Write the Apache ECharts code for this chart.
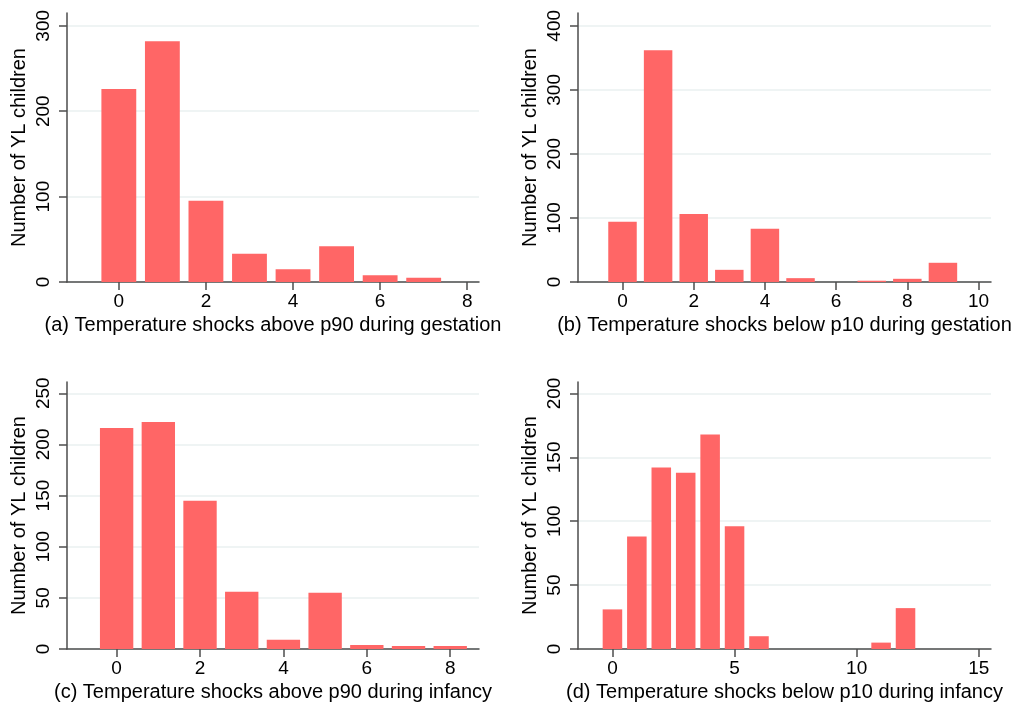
<!DOCTYPE html>
<html>
<head>
<meta charset="utf-8">
<script src="https://cdn.jsdelivr.net/npm/echarts@6/dist/echarts.min.js"></script>
<style>
  html, body { margin: 0; padding: 0; background: #fff; }
  #chart { width: 1013px; height: 704px; }
</style>
</head>
<body>
<div id="chart"></div>
<script>
// number of shocks (x) and number of YL children (y), one pair per panel
var shocksA = [0, 1, 2, 3, 4, 5, 6, 7, 8];
var countsA = [226, 282, 95, 33, 15, 42, 8, 5, 0];
var shocksB = [0, 1, 2, 3, 4, 5, 6, 7, 8, 9];
var countsB = [94, 362, 106, 19, 83, 6, 0, 2, 5, 30];
var shocksC = [0, 1, 2, 3, 4, 5, 6, 7, 8];
var countsC = [216, 222, 145, 56, 9, 55, 4, 3, 3];
var shocksD = [0, 1, 2, 3, 4, 5, 6, 7, 8, 9, 10, 11, 12];
var countsD = [31, 88, 142, 138, 168, 96, 10, 0, 0, 0, 0, 5, 32];

// tick labels
var xTicksA = [0, 2, 4, 6, 8];
var xTicksB = [0, 2, 4, 6, 8, 10];
var xTicksC = [0, 2, 4, 6, 8];
var xTicksD = [0, 5, 10, 15];
var yTicksA = [0, 100, 200, 300];
var yTicksB = [0, 100, 200, 300, 400];
var yTicksC = [0, 50, 100, 150, 200, 250];
var yTicksD = [0, 50, 100, 150, 200];

var titles = [
    '(a) Temperature shocks above p90 during gestation',
    '(b) Temperature shocks below p10 during gestation',
    '(c) Temperature shocks above p90 during infancy',
    '(d) Temperature shocks below p10 during infancy'
];
var yName = 'Number of YL children';

var panels = [
    {x: shocksA, y: countsA, xt: xTicksA, yt: yTicksA, xr: [-1.19, 8.27], yr: [0, 315],
        grid: {left: 67, top: 13, width: 412, height: 269}},
    {x: shocksB, y: countsB, xt: xTicksB, yt: yTicksB, xr: [-1.25, 10.35], yr: [0, 420],
        grid: {left: 578, top: 13, width: 413, height: 269}},
    {x: shocksC, y: countsC, xt: xTicksC, yt: yTicksC, xr: [-1.19, 8.69], yr: [0, 261],
        grid: {left: 67, top: 382, width: 412, height: 267}},
    {x: shocksD, y: countsD, xt: xTicksD, yt: yTicksD, xr: [-1.41, 15.5], yr: [0, 209],
        grid: {left: 578, top: 382, width: 413, height: 267}}
];

var font = 'Liberation Sans, Arial, sans-serif';
var axisColor = '#4d4d4d';
var barColor = '#ff6666';
var barW = 0.8;

var grids = [], xAxes = [], yAxes = [], series = [];

panels.forEach(function (p, i) {
    grids.push(Object.assign({outerBoundsMode: 'none', containLabel: false}, p.grid));
    xAxes.push({
        type: 'value', gridIndex: i, min: p.xr[0], max: p.xr[1],
        name: titles[i], nameLocation: 'middle', nameGap: 33,
        nameTextStyle: {fontFamily: font, fontSize: 20, color: '#000'},
        axisLine: {onZero: false, lineStyle: {color: axisColor, width: 1.5}},
        axisTick: {show: true, length: 8, customValues: p.xt, lineStyle: {color: axisColor, width: 1.5}},
        axisLabel: {customValues: p.xt, margin: 10, fontFamily: font, fontSize: 19, color: '#000'},
        splitLine: {show: false}
    });
    yAxes.push({
        type: 'value', gridIndex: i, min: p.yr[0], max: p.yr[1],
        name: yName, nameLocation: 'middle', nameGap: 38,
        nameTextStyle: {fontFamily: font, fontSize: 20, color: '#000'},
        axisLine: {show: true, onZero: false, lineStyle: {color: axisColor, width: 1.5}},
        axisTick: {show: true, length: 8, customValues: p.yt, lineStyle: {color: axisColor, width: 1.5}},
        axisLabel: {customValues: p.yt, rotate: 90, margin: 14, fontFamily: font, fontSize: 19, color: '#000'},
        splitLine: {show: true, lineStyle: {color: '#eaf0f1', width: 1.5}}
    });
    var data = p.x.map(function (v, k) { return [v, p.y[k]]; });
    series.push({
        type: 'custom', xAxisIndex: i, yAxisIndex: i, data: data,
        renderItem: function (params, api) {
            var xv = api.value(0), yv = api.value(1);
            if (!yv) return;
            var top = api.coord([xv, yv]);
            var base = api.coord([xv, 0]);
            var w = api.size([barW, 0])[0];
            return {
                type: 'rect',
                shape: {x: top[0] - w / 2, y: top[1], width: w, height: base[1] - top[1]},
                style: {fill: barColor}
            };
        },
        z: 1
    });
});

var chart = echarts.init(document.getElementById('chart'), null, {renderer: 'canvas'});
chart.setOption({
    backgroundColor: '#fff',
    animation: false,
    grid: grids,
    xAxis: xAxes,
    yAxis: yAxes,
    series: series
});
</script>
</body>
</html>
